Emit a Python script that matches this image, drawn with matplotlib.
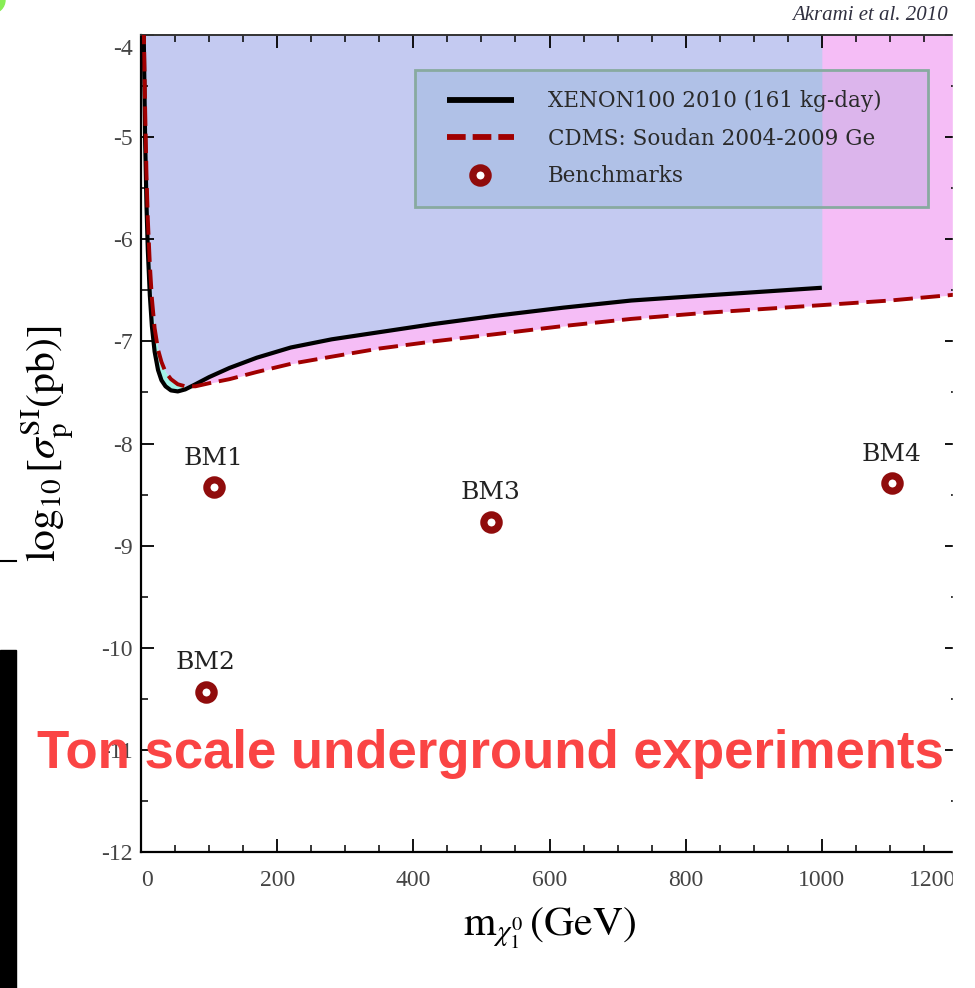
import numpy as np
import matplotlib
matplotlib.use('Agg')
from matplotlib import pyplot as plt
from matplotlib.patches import Rectangle, Circle
from matplotlib.lines import Line2D
import matplotlib.transforms as mtransforms

plt.rcParams['font.family'] = 'Liberation Serif'
plt.rcParams['mathtext.fontset'] = 'stix'
plt.rcParams['axes.unicode_minus'] = False

# neutralino mass grid (GeV) shared by both limit curves
mass = [4, 6, 8, 10, 13, 16, 20, 25, 30, 36, 44, 54, 65, 80, 100, 130, 170,
        220, 280, 350, 430, 520, 620, 720, 830, 1000, 1100, 1200]
# log10 of the spin-independent cross section limit (pb)
xenon_limit = [-4.0, -5.0, -5.65, -6.1, -6.55, -6.85, -7.1, -7.28, -7.38, -7.44,
               -7.48, -7.49, -7.47, -7.42, -7.35, -7.26, -7.16, -7.06, -6.98,
               -6.91, -6.83, -6.75, -6.67, -6.60, -6.55, -6.475]
cdms_limit = [-3.9, -4.7, -5.35, -5.8, -6.25, -6.58, -6.87, -7.08, -7.2, -7.3,
              -7.37, -7.42, -7.44, -7.44, -7.41, -7.37, -7.30, -7.22, -7.15,
              -7.07, -7.00, -6.93, -6.85, -6.78, -6.72, -6.645, -6.60, -6.54]

bm_names = ['BM1', 'BM2', 'BM3', 'BM4']
bm_mass = [107, 95, 514, 1103]
bm_sigma = [-8.43, -10.43, -8.77, -8.39]

W, H = 975, 988
fig = plt.figure(figsize=(W / 100, H / 100), dpi=100)
ax = fig.add_axes([141 / W, 1 - 852 / H, 817 / W, 817 / H])

m = np.array(mass, dtype=float)
xe = np.array(xenon_limit)
cd = np.array(cdms_limit)
n_xe = len(xe)
mx = m[:n_xe]
cdx = cd[:n_xe]

# excluded regions
ax.fill_between(m, cd, -4, color='#f5bdf6', lw=0, zorder=1)
ax.fill_between(mx, np.maximum(xe, cdx), -4, color='#c4caf1', lw=0, zorder=1)
ax.fill_between(mx, xe, cdx, where=xe < cdx, interpolate=True,
                color='#a0f2e6', lw=0, zorder=1)

xe_style = dict(color='black', lw=3.0, solid_capstyle='butt')
cd_style = dict(color='#a00000', lw=2.8, ls=(0, (5, 2)))
bm_style = dict(ls='none', marker='o', ms=11, mew=5.2, mfc='white', mec='#900c0c')

ax.plot(mx, xe, zorder=3, **xe_style)
ax.plot(m, cd, zorder=3, **cd_style)
ax.plot(bm_mass, bm_sigma, zorder=4, **bm_style)

for name, xm, ys in zip(bm_names, bm_mass, bm_sigma):
    ax.annotate(name, (xm, ys), xytext=(0, 21), textcoords='offset points',
                ha='center', va='center', fontsize=18, family='DejaVu Serif',
                color='#222222')

ax.set_xlim(0, 1200)
ax.set_ylim(-12, -4)
ax.set_xticks(np.arange(0, 1201, 200))
ax.set_xticks(np.arange(0, 1201, 50), minor=True)
ax.set_yticks(np.arange(-12, -3, 1))
ax.set_yticks(np.arange(-12, -3.9, 0.5), minor=True)
ax.tick_params(which='both', direction='in', top=True, right=True,
               labelsize=17, labelcolor='#444444')
ax.tick_params(which='major', length=9.5, width=1.3)
ax.tick_params(which='minor', length=5, width=1.1)
ax.tick_params(axis='x', pad=13)
ax.tick_params(axis='y', pad=6)

for s in ['left', 'bottom']:
    ax.spines[s].set_linewidth(1.6)
ax.spines['top'].set_linewidth(1.4)
ax.spines['top'].set_color('#333333')

# nudge the edge tick labels inside the frame
fig.canvas.draw()
xl = ax.get_xticklabels()
xl[0].set_transform(xl[0].get_transform() + mtransforms.ScaledTranslation(0.06, 0, fig.dpi_scale_trans))
xl[-1].set_transform(xl[-1].get_transform() + mtransforms.ScaledTranslation(-0.26, 0, fig.dpi_scale_trans))
yl = ax.get_yticklabels()
yl[-1].set_transform(yl[-1].get_transform() + mtransforms.ScaledTranslation(0, -0.12, fig.dpi_scale_trans))

ax.set_xlabel(r'$\mathrm{m}_{\chi_1^0}\,(\mathrm{GeV})$', fontsize=30, va='top')
ax.xaxis.set_label_coords(0.5, -0.065)
ax.set_ylabel(r'$\log_{10}[\sigma_\mathrm{p}^\mathrm{SI}(\mathrm{pb})]$', fontsize=30, va='center')
ax.yaxis.set_label_coords(-0.115, 0.5)

# legend box and entries
ax.add_patch(Rectangle((415 / W, 1 - 207 / H), 513 / W, 137 / H,
                       transform=fig.transFigure, clip_on=False,
                       facecolor=(0.0, 0.47, 0.59, 0.1), edgecolor='#88aaa0',
                       lw=2, zorder=5))
leg_handles = [Line2D([], [], **dict(xe_style, lw=4.2)),
               Line2D([], [], **dict(cd_style, lw=4.2, ls=(0, (3.2, 1.2)))),
               Line2D([], [], **bm_style)]
leg_labels = ['XENON100 2010 (161 kg-day)', 'CDMS: Soudan 2004-2009 Ge', 'Benchmarks']
ax.legend(leg_handles, leg_labels, loc='upper left',
          bbox_to_anchor=(447 / W, 1 - 90 / H), bbox_transform=fig.transFigure,
          frameon=False, borderpad=0, borderaxespad=0, handlelength=3.1,
          handletextpad=1.6, labelspacing=0.72, numpoints=1,
          prop={'family': 'DejaVu Serif', 'size': 15.5}, labelcolor='#2a2a2a')

fig.text(948 / W, 1 - 16 / H, 'Akrami et al. 2010', ha='right', va='center',
         fontsize=15, style='italic', color='#303040')

fig.text(37 / W, 1 - 768 / H, 'Ton scale underground experiments',
         family='Liberation Sans', weight='bold', fontsize=38,
         color='#fa4444', ha='left', va='baseline', zorder=15)

# slide pieces around the plot
fig.add_artist(Rectangle((953 / W, 0), 1, 1, transform=fig.transFigure,
                         color='white', zorder=20))
fig.add_artist(Rectangle((0, 0), 16 / W, (H - 650) / H,
                         transform=fig.transFigure, color='black', zorder=20))
fig.add_artist(Line2D([0, 16 / W], [1 - 561 / H] * 2, transform=fig.transFigure,
                      color='black', lw=1.5, zorder=20))
fig.add_artist(Circle((-8 / W, 1.0), 13 / W, transform=fig.transFigure,
                      color='#88ee55', zorder=20))

fig.savefig('out.png', dpi=100)
